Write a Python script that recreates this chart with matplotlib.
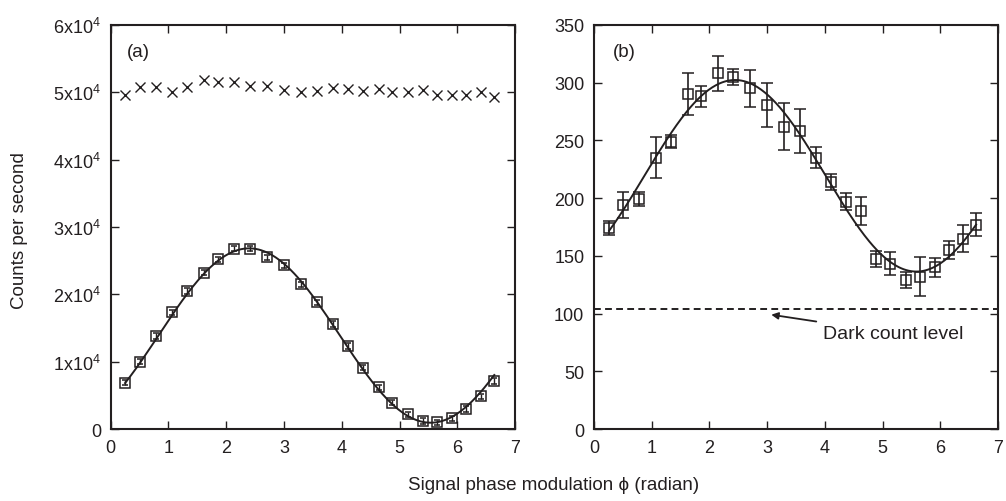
import numpy as np
import matplotlib
matplotlib.use("Agg")
import matplotlib.pyplot as plt

plt.rcParams['font.family'] = ['Liberation Sans', 'DejaVu Sans']
plt.rcParams['mathtext.fontset'] = 'custom'
plt.rcParams['mathtext.rm'] = 'Liberation Sans'
plt.rcParams['mathtext.it'] = 'Liberation Sans:italic'

INK = "#231f20"

# ---------------------------------------------------------------
# Panel (a): reference counts (crosses) and signal counts (squares)
# ---------------------------------------------------------------
phase_a = [0.25, 0.51, 0.78, 1.06, 1.33, 1.62, 1.86, 2.14, 2.41, 2.70,
           3.00, 3.29, 3.57, 3.85, 4.10, 4.36, 4.64, 4.87, 5.14, 5.40,
           5.65, 5.90, 6.15, 6.41, 6.64]
ref_counts = [49600, 50800, 50800, 50100, 50800, 51800, 51500, 51500, 51000, 51000,
              50300, 50000, 50200, 50700, 50500, 50200, 50500, 50100, 50100, 50400,
              49600, 49600, 49600, 50100, 49300]
sig_counts = [6900, 10000, 13800, 17300, 20500, 23200, 25200, 26800, 26800, 25500,
              24300, 21500, 18800, 15600, 12300, 9100, 6200, 3900, 2200, 1200,
              1000, 1600, 3000, 4850, 7100]
sig_err = [400] * len(sig_counts)

# ---------------------------------------------------------------
# Panel (b): low-intensity counts with error bars
# ---------------------------------------------------------------
phase_b = [0.26, 0.51, 0.78, 1.07, 1.34, 1.62, 1.86, 2.14, 2.41, 2.70,
           3.00, 3.29, 3.56, 3.85, 4.10, 4.36, 4.63, 4.89, 5.13, 5.41,
           5.64, 5.90, 6.15, 6.40, 6.62]
low_counts = [174, 194, 199, 235, 249, 290, 288, 308, 305, 295,
              281, 262, 258, 235, 214, 197, 189, 147, 143, 129,
              132, 140, 155, 165, 177]
low_err = [6, 11, 6, 18, 6, 18, 9, 15, 7, 16,
           19, 20, 19, 9, 7, 7, 12, 7, 10, 7,
           17, 8, 8, 12, 10]
dark_level = 104

y_ticks_a = [0, 10000, 20000, 30000, 40000, 50000, 60000]
y_labels_a = ["0", r"1x10$^4$", r"2x10$^4$", r"3x10$^4$", r"4x10$^4$", r"5x10$^4$", r"6x10$^4$"]
y_ticks_b = [0, 50, 100, 150, 200, 250, 300, 350]
x_ticks = [0, 1, 2, 3, 4, 5, 6, 7]


def sine_fit(x, y):
    # least squares fit of y = c0 + c1*cos(x) + c2*sin(x)
    x = np.asarray(x, float)
    A = np.column_stack([np.ones_like(x), np.cos(x), np.sin(x)])
    coef, *_ = np.linalg.lstsq(A, np.asarray(y, float), rcond=None)
    xs = np.linspace(x[0], x[-1], 300)
    return xs, coef[0] + coef[1] * np.cos(xs) + coef[2] * np.sin(xs)


def style_axes(ax):
    ax.tick_params(direction="in", length=6, width=1.0, top=True, right=True,
                   labelsize=13, pad=7, colors=INK)
    for s in ax.spines.values():
        s.set_linewidth(1.5)
        s.set_color(INK)
    ax.set_xlim(0, 7)
    ax.set_xticks(x_ticks)


fig = plt.figure(figsize=(10.06, 5.02), dpi=100)
ax1 = fig.add_axes([0.110, 0.1434, 0.402, 0.805])
ax2 = fig.add_axes([0.5905, 0.1434, 0.4016, 0.805])

# ---- panel (a)
ax1.plot(phase_a, ref_counts, linestyle="none", marker="x", markersize=7,
         markeredgewidth=1.0, color=INK)
xs, ys = sine_fit(phase_a, sig_counts)
ax1.plot(xs, ys, color=INK, linewidth=1.4)
ax1.errorbar(phase_a, sig_counts, yerr=sig_err, fmt="s", markersize=7,
             markerfacecolor="none", markeredgecolor=INK, markeredgewidth=1.1,
             ecolor=INK, elinewidth=1.0, capsize=2.5, color=INK)
ax1.set_ylim(0, 60000)
ax1.set_yticks(y_ticks_a)
ax1.set_yticklabels(y_labels_a)
style_axes(ax1)
ax1.text(0.28, 56000, "(a)", fontsize=13.5, color=INK, va="center", ha="left")

# ---- panel (b)
xs, ys = sine_fit(phase_b, low_counts)
ax2.plot(xs, ys, color=INK, linewidth=1.4)
ax2.errorbar(phase_b, low_counts, yerr=low_err, fmt="s", markersize=7,
             markerfacecolor="none", markeredgecolor=INK, markeredgewidth=1.1,
             ecolor=INK, elinewidth=1.2, capsize=4, capthick=1.2, color=INK)
ax2.axhline(dark_level, color=INK, linewidth=1.4, dashes=(3.5, 2.2))
ax2.set_ylim(0, 350)
ax2.set_yticks(y_ticks_b)
style_axes(ax2)
ax2.text(0.33, 327, "(b)", fontsize=13.5, color=INK, va="center", ha="left")
ax2.annotate("Dark count level", xy=(3.07, 99), xytext=(3.97, 83),
             fontsize=14, color=INK, va="center", ha="left",
             arrowprops=dict(arrowstyle="-|>", color=INK, lw=1.3,
                             shrinkA=3, shrinkB=0, mutation_scale=10))

fig.text(0.019, 0.54, "Counts per second", rotation=90, fontsize=13.5,
         color=INK, va="center", ha="center")
fig.text(0.550, 0.033, "Signal phase modulation \u03d5 (radian)", fontsize=13.5,
         color=INK, va="center", ha="center")

fig.savefig("out.png", dpi=100)
